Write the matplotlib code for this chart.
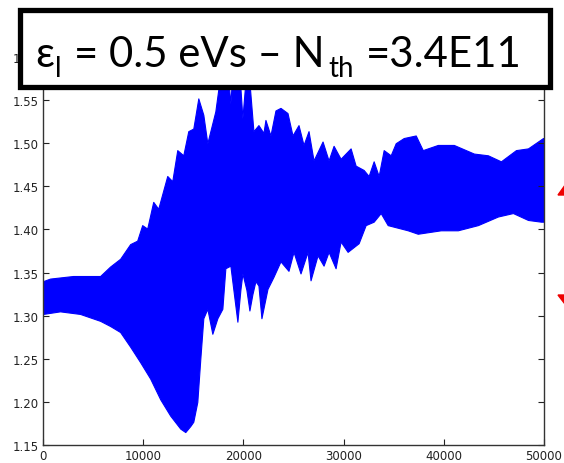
import matplotlib
matplotlib.use("Agg")
import matplotlib.pyplot as plt
from matplotlib.patches import Rectangle, Polygon
import numpy as np

# ---- data ----
upper_x = [0, 700, 3000, 5700, 6700, 7700, 8700, 9400, 9900, 10400, 11000, 11500, 12400, 12900,
           13400, 14000, 14500, 15000, 15500, 16000, 16400, 17200, 17700, 18300, 18700, 19000,
           19500, 19900, 20400, 21000, 21500, 22000, 22200, 22700, 23200, 23700, 24400, 24900,
           25500, 26000, 26500, 27000, 27900, 28500, 29000, 29700, 30700, 31200, 32000, 32500,
           33000, 33500, 34000, 34700, 35200, 36000, 37200, 37900, 39400, 41000, 43000, 44400,
           45700, 47200, 48400, 49900, 50000]
upper_y = [1.340, 1.343, 1.346, 1.346, 1.357, 1.366, 1.383, 1.387, 1.405, 1.401, 1.432, 1.424, 1.462, 1.456,
           1.492, 1.486, 1.514, 1.517, 1.552, 1.533, 1.500, 1.537, 1.580, 1.600, 1.546, 1.600,
           1.600, 1.529, 1.600, 1.514, 1.521, 1.512, 1.527, 1.509, 1.538, 1.541, 1.535, 1.509,
           1.521, 1.498, 1.514, 1.480, 1.502, 1.480, 1.497, 1.482, 1.494, 1.474, 1.469, 1.462,
           1.479, 1.462, 1.492, 1.486, 1.500, 1.506, 1.509, 1.492, 1.498, 1.498, 1.488, 1.486,
           1.479, 1.492, 1.494, 1.506, 1.506]

lower_x = [0, 1700, 3700, 5700, 6700, 7700, 8700, 9700, 10700, 11700, 12700, 13700, 14200,
           14700, 15000, 15400, 15700, 16000, 16400, 16900, 17400, 17900, 18200, 18700, 19000,
           19400, 19700, 19900, 20300, 20600, 20900, 21200, 21500, 21800, 22400, 23000, 23700,
           24500, 25000, 25700, 26400, 26700, 27400, 28000, 28500, 29200, 29700, 30400, 31500,
           32200, 33000, 33700, 34400, 36400, 37400, 39700, 41400, 43400, 45400, 46900, 48400,
           49700, 50000]
lower_y = [1.302, 1.305, 1.302, 1.294, 1.288, 1.281, 1.264, 1.246, 1.227, 1.203, 1.184, 1.169, 1.165,
           1.172, 1.177, 1.200, 1.250, 1.297, 1.308, 1.279, 1.297, 1.308, 1.355, 1.358, 1.330,
           1.293, 1.330, 1.349, 1.330, 1.306, 1.325, 1.340, 1.335, 1.297, 1.331, 1.345, 1.363,
           1.352, 1.374, 1.349, 1.374, 1.341, 1.370, 1.358, 1.374, 1.355, 1.386, 1.374, 1.384,
           1.405, 1.409, 1.419, 1.405, 1.399, 1.395, 1.399, 1.399, 1.405, 1.415, 1.419, 1.411,
           1.409, 1.409]

x_ticks = [0, 10000, 20000, 30000, 40000, 50000]
y_ticks = [1.15, 1.20, 1.25, 1.30, 1.35, 1.40, 1.45, 1.50, 1.55, 1.60]
# title pieces: (text, is_subscript, gap in px before the piece)
title_parts = [("ε", False, 0), ("l", True, 1), ("= 0.5 eVs – N", False, 13),
               ("th", True, 3), ("=3.4E11", False, 12)]

# ---- figure ----
W, H = 564, 464
fig = plt.figure(figsize=(W / 100, H / 100), dpi=100)

ax = fig.add_axes([43 / W, 1 - 446 / H, (544 - 43) / W, (446 - 58) / H])

ux = np.array(upper_x, float); uy = np.array(upper_y, float)
lx = np.array(lower_x, float); ly = np.array(lower_y, float)
grid = np.union1d(ux, lx)
up = np.interp(grid, ux, uy)
lo = np.interp(grid, lx, ly)
ax.fill_between(grid, lo, up, color='#0000ff', linewidth=0.8, edgecolor='#0000ff')

ax.set_xlim(0, 50000)
ax.set_ylim(1.15, 1.60)
ax.set_xticks(x_ticks)
ax.set_yticks(y_ticks)
ax.set_yticklabels([f"{v:.2f}" for v in y_ticks])
ax.tick_params(direction='in', top=True, right=True, labelsize=8.5, length=4,
               colors='#222222', pad=3)
for s in ax.spines.values():
    s.set_linewidth(1.0)
    s.set_color('#333333')

# title box
rect = Rectangle((19.5 / W, 1 - 88 / H), (549.5 - 19.5) / W, (88 - 11) / H,
                 transform=fig.transFigure, facecolor='white', edgecolor='black',
                 linewidth=3.8, zorder=10)
fig.add_artist(rect)

renderer = fig.canvas.get_renderer()
FAM = ['Lato', 'DejaVu Sans']
SUB = 0.66


def widths(fs):
    out = []
    for txt, is_sub, gap in title_parts:
        t = fig.text(0, 0, txt, fontsize=fs * (SUB if is_sub else 1), family=FAM)
        out.append(t.get_window_extent(renderer).width)
        t.remove()
    return out


x_start, x_end = 35.0, 520.0
gaps = sum(p[2] for p in title_parts)
w30 = widths(30)
main_fs = 30 * (x_end - x_start - gaps) / sum(w30)
ws = widths(main_fs)
base_y, sub_y = 67, 77
xcur = x_start
for (txt, is_sub, gap), w in zip(title_parts, ws):
    xcur += gap
    fig.text(xcur / W, 1 - (sub_y if is_sub else base_y) / H, txt,
             fontsize=main_fs * (SUB if is_sub else 1), family=FAM,
             ha='left', va='baseline', zorder=11, color='black')
    xcur += w

# red arrow-heads at right edge
tri_up = Polygon([[558 / W, 1 - 196 / H], [568 / W, 1 - 182 / H], [578 / W, 1 - 196 / H]],
                 closed=True, transform=fig.transFigure, color='#ee0000', zorder=10)
tri_dn = Polygon([[558 / W, 1 - 296 / H], [568 / W, 1 - 309 / H], [578 / W, 1 - 296 / H]],
                 closed=True, transform=fig.transFigure, color='#ee0000', zorder=10)
fig.add_artist(tri_up)
fig.add_artist(tri_dn)

fig.savefig('out.png', dpi=100)
